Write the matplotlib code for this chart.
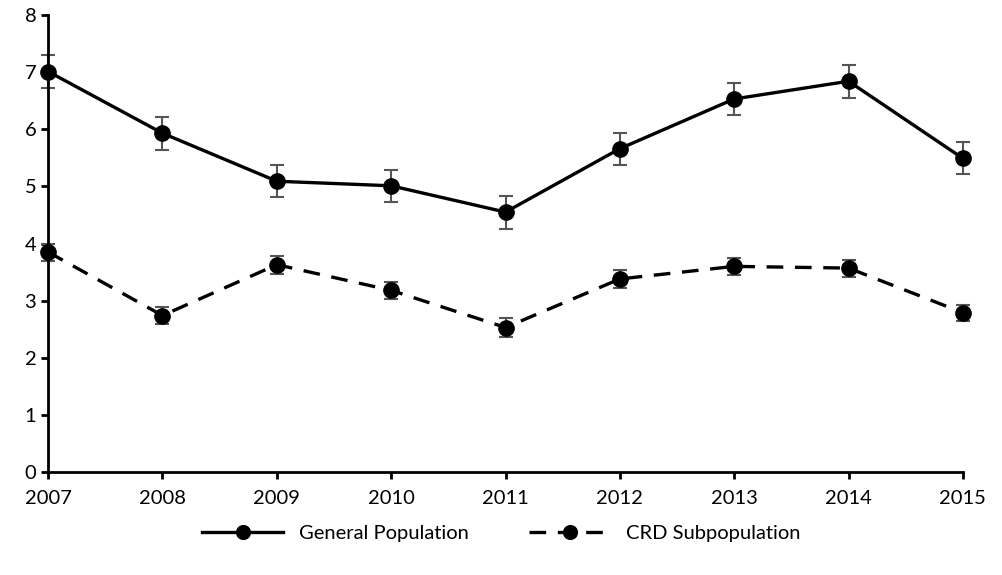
import numpy as np
import matplotlib
matplotlib.use("Agg")
import matplotlib.pyplot as plt

plt.rcParams['font.family'] = ['Lato', 'DejaVu Sans']

# data
years = [2007, 2008, 2009, 2010, 2011, 2012, 2013, 2014, 2015]
general = [7.01, 5.93, 5.09, 5.01, 4.55, 5.66, 6.53, 6.84, 5.49]
general_err = [0.29, 0.29, 0.28, 0.28, 0.29, 0.28, 0.28, 0.29, 0.28]
crd = [3.85, 2.74, 3.63, 3.18, 2.53, 3.38, 3.60, 3.57, 2.79]
crd_err = [0.15, 0.15, 0.16, 0.15, 0.16, 0.15, 0.15, 0.15, 0.14]
labels = ["General Population", "CRD Subpopulation"]

fig = plt.figure(figsize=(10.03, 5.75), dpi=100)
ax = fig.add_axes([0.048, 0.179, 0.912, 0.795])

ax.errorbar(years, general, yerr=general_err, fmt='none', ecolor='#555555',
            elinewidth=1.5, capsize=5, capthick=1.5, clip_on=False, zorder=2)
ax.errorbar(years, crd, yerr=crd_err, fmt='none', ecolor='#555555',
            elinewidth=1.5, capsize=5, capthick=1.5, clip_on=False, zorder=2)

ax.plot(years, general, color='black', lw=2.4, marker='o', markersize=11,
        clip_on=False, zorder=3, label=labels[0])
ax.plot(years, crd, color='black', lw=2.4, marker='o', markersize=11,
        dashes=(5, 3.5), clip_on=False, zorder=3, label=labels[1])

ax.set_xlim(2007, 2015)
ax.set_ylim(0, 8)
ax.set_xticks(years)
ax.set_yticks(range(0, 9))
ax.spines['top'].set_visible(False)
ax.spines['right'].set_visible(False)
ax.spines['left'].set_linewidth(2)
ax.spines['bottom'].set_linewidth(2)
ax.tick_params(axis='both', labelsize=14.5, width=2, length=5, direction='out')
ax.tick_params(axis='x', pad=8)

fig.legend(loc='lower center', bbox_to_anchor=(0.5, 0.025), ncol=2,
           frameon=False, fontsize=14.5, handlelength=4, columnspacing=3,
           markerscale=0.9)

fig.savefig("out.png", dpi=100)
